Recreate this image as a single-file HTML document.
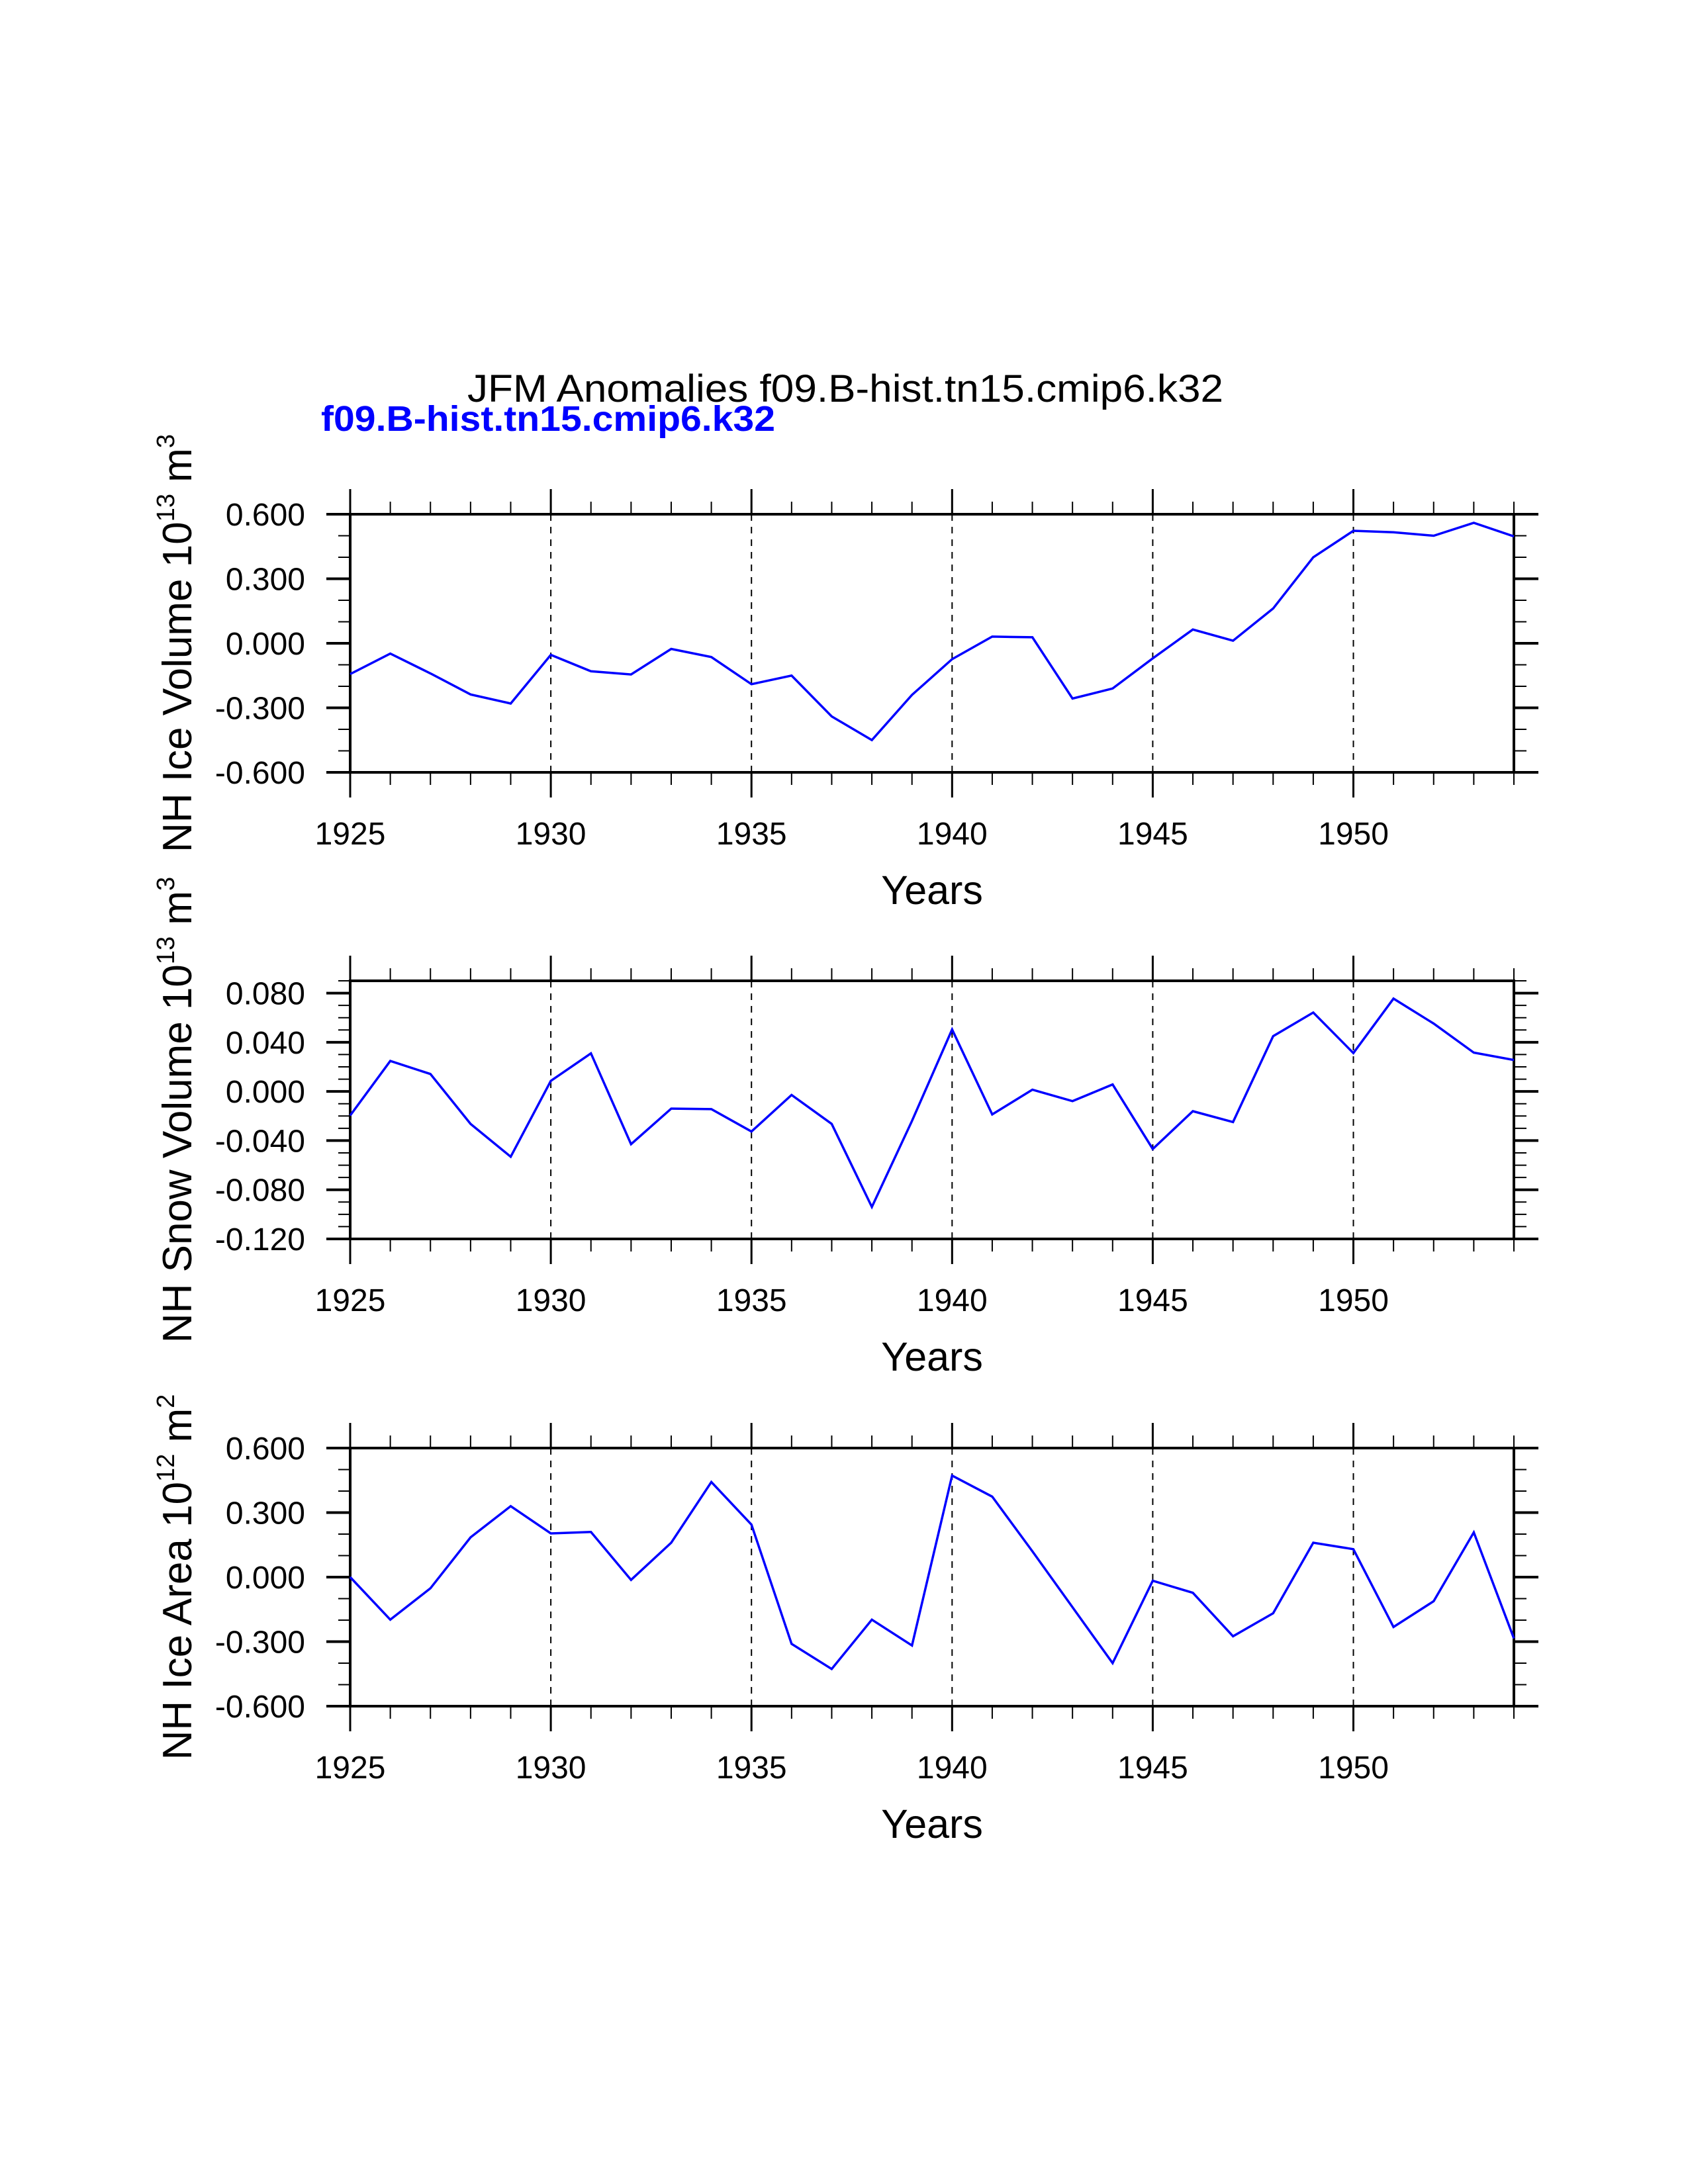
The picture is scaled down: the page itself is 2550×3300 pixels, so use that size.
<!DOCTYPE html>
<html><head><meta charset="utf-8"><style>
html,body{margin:0;padding:0;background:#fff;}
svg{display:block;}
text{font-family:"Liberation Sans",sans-serif;}
</style></head><body>
<svg id="chart" width="2550" height="3300" viewBox="0 0 2550 3300" xmlns="http://www.w3.org/2000/svg">
<rect width="2550" height="3300" fill="#fff"/>
<text x="706" y="607" font-size="58" textLength="1142" lengthAdjust="spacingAndGlyphs">JFM Anomalies f09.B-hist.tn15.cmip6.k32</text>
<text x="485" y="651" font-size="54" font-weight="bold" fill="#0000ff" textLength="686" lengthAdjust="spacingAndGlyphs">f09.B-hist.tn15.cmip6.k32</text>
<g id="panels"></g>
</svg>
<script>
const years = [];
for (let y = 1925; y <= 1954; y++) years.push(y);
const xTickLabels = ["1925","1930","1935","1940","1945","1950"];
const iceVolume = [-0.143,-0.048,-0.14,-0.238,-0.28,-0.054,-0.13,-0.145,-0.026,-0.064,-0.19,-0.15,-0.34,-0.45,-0.24,-0.074,0.031,0.028,-0.257,-0.21,-0.07,0.064,0.012,0.162,0.40,0.523,0.516,0.50,0.56,0.497];
const snowVolume = [-0.0196,0.0248,0.0142,-0.0264,-0.0531,0.0086,0.031,-0.0429,-0.014,-0.0144,-0.0326,-0.0029,-0.0264,-0.094,-0.024,0.0504,-0.0187,0.0014,-0.0079,0.0057,-0.0468,-0.0161,-0.0249,0.045,0.0642,0.0312,0.0755,0.0552,0.0316,0.0256];
const iceArea = [0,-0.198,-0.052,0.185,0.33,0.203,0.21,-0.013,0.16,0.442,0.244,-0.31,-0.427,-0.198,-0.318,0.472,0.374,0.12,-0.14,-0.40,-0.017,-0.073,-0.275,-0.168,0.16,0.13,-0.232,-0.112,0.208,-0.285];
const iceVolumeTicks = [-0.6,-0.3,0,0.3,0.6];
const snowVolumeTicks = [-0.12,-0.08,-0.04,0,0.04,0.08];
const iceAreaTicks = [-0.6,-0.3,0,0.3,0.6];

const NS = "http://www.w3.org/2000/svg";
const root = document.getElementById('panels');
const X0 = 529, X1 = 2287;
function mk(tag, attrs, parent){
  const e = document.createElementNS(NS, tag);
  for (const k in attrs) e.setAttribute(k, attrs[k]);
  parent.appendChild(e);
  return e;
}
const panels = [
  {name:'ice-volume', top:777, bot:1167, ymin:-0.6, ymax:0.6, minor:0.1, ticks:iceVolumeTicks, data:iceVolume, title:['NH Ice Volume 10','13',' m','3']},
  {name:'snow-volume', top:1482, bot:1872, ymin:-0.12, ymax:0.09, minor:0.01, ticks:snowVolumeTicks, data:snowVolume, title:['NH Snow Volume 10','13',' m','3']},
  {name:'ice-area', top:2188, bot:2578, ymin:-0.6, ymax:0.6, minor:0.1, ticks:iceAreaTicks, data:iceArea, title:['NH Ice Area 10','12',' m','2']}
];
const xs = v => X0 + (v - 1925) / (1954 - 1925) * (X1 - X0);
panels.forEach(p => {
  const g = mk('g', {}, root);
  
  
  const ys = v => p.bot - (v - p.ymin) / (p.ymax - p.ymin) * (p.bot - p.top);
  [1930,1935,1940,1945,1950].forEach(yr => {
    const l = mk('line', {x1:xs(yr), x2:xs(yr), y1:p.top, y2:p.bot, stroke:'#000', 'stroke-width':2, 'stroke-dasharray':'10 9'}, g);
    
    
  });
  years.forEach(yr => {
    const major = (yr % 5 === 0);
    const len = major ? 38 : 19, w = major ? 3 : 2;
    mk('line', {x1:xs(yr), x2:xs(yr), y1:p.top, y2:p.top - len, stroke:'#000', 'stroke-width':w}, g);
    mk('line', {x1:xs(yr), x2:xs(yr), y1:p.bot, y2:p.bot + len, stroke:'#000', 'stroke-width':w}, g);
  });
  xTickLabels.forEach(lbl => {
    const t = mk('text', {x:xs(+lbl), y:p.bot + 109, 'font-size':48, 'text-anchor':'middle'}, g);
    
    
    t.textContent = lbl;
  });
  const nMinor = Math.round((p.ymax - p.ymin) / p.minor);
  for (let i = 0; i <= nMinor; i++) {
    const v = p.ymin + i * p.minor;
    mk('line', {x1:X0, x2:X0 - 18, y1:ys(v), y2:ys(v), stroke:'#000', 'stroke-width':2}, g);
    mk('line', {x1:X1, x2:X1 + 19, y1:ys(v), y2:ys(v), stroke:'#000', 'stroke-width':2}, g);
  }
  p.ticks.forEach(v => {
    mk('line', {x1:X0, x2:X0 - 36, y1:ys(v), y2:ys(v), stroke:'#000', 'stroke-width':4}, g);
    mk('line', {x1:X1, x2:X1 + 37, y1:ys(v), y2:ys(v), stroke:'#000', 'stroke-width':4}, g);
    const t = mk('text', {x:461, y:ys(v) + 17, 'font-size':48, 'text-anchor':'end'}, g);
    
    
    t.textContent = v.toFixed(3);
  });
  const b = mk('rect', {x:X0, y:p.top, width:X1 - X0, height:p.bot - p.top, fill:'none', stroke:'#000', 'stroke-width':4}, g);
  
  
  const pts = p.data.map((v, i) => xs(years[i]).toFixed(1) + ',' + ys(v).toFixed(1)).join(' ');
  const pl = mk('polyline', {points:pts, fill:'none', stroke:'#0000ff', 'stroke-width':3.5, 'stroke-linejoin':'miter'}, g);
  
  
  const xt = mk('text', {x:(X0 + X1) / 2, y:p.bot + 199, 'font-size':61, 'text-anchor':'middle'}, g);
  
  
  xt.textContent = 'Years';
  const cy = (p.top + p.bot) / 2;
  const yt = mk('text', {x:0, y:0, 'font-size':62, 'text-anchor':'middle', transform:'translate(289,' + cy + ') rotate(-90)'}, g);
  
  
  p.title.forEach((s, i) => {
    const ts = mk('tspan', {}, yt);
    if (i % 2 === 1) { ts.setAttribute('font-size', '38'); ts.setAttribute('dy', '-26'); }
    else if (i > 0) { ts.setAttribute('dy', '26'); }
    ts.textContent = s;
  });
});
</script>
</body></html>
